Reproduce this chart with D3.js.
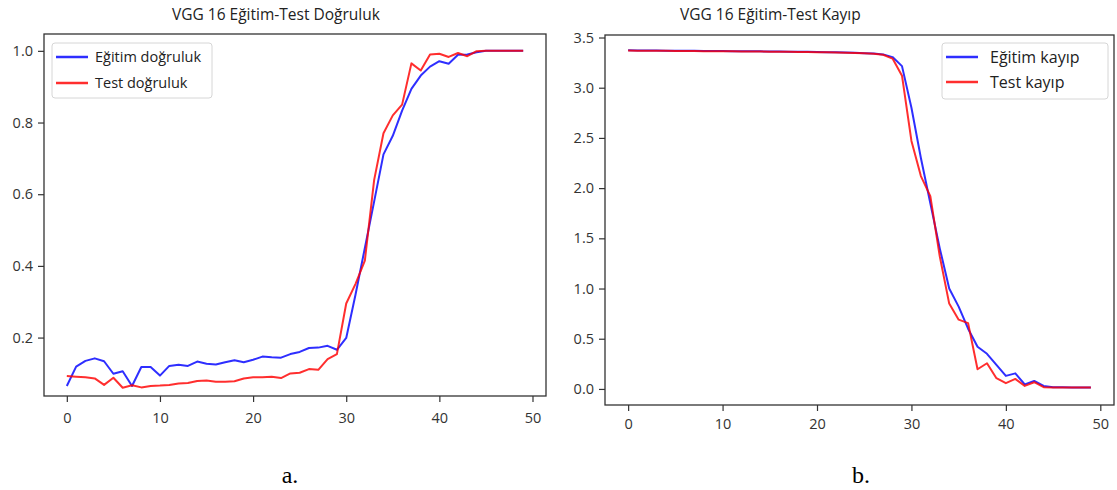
<!DOCTYPE html>
<html>
<head>
<meta charset="utf-8">
<script src="https://cdn.jsdelivr.net/npm/d3@7"></script>
<style>
  body { margin: 0; background: #fff; }
  svg text { font-family: "Open Sans", sans-serif; }
</style>
</head>
<body>
<svg id="chart" width="1117" height="490"></svg>
<script>
// ---------- Data ----------
const xTicks = [0, 10, 20, 30, 40, 50];

const trainAcc = [
  0.065, 0.119, 0.135, 0.142, 0.134, 0.099, 0.106, 0.065, 0.118, 0.118,
  0.094, 0.121, 0.124, 0.121, 0.133, 0.127, 0.125, 0.131, 0.137, 0.131,
  0.138, 0.147, 0.145, 0.144, 0.154, 0.160, 0.171, 0.172, 0.177, 0.166,
  0.199, 0.320, 0.450, 0.580, 0.711, 0.763, 0.833, 0.894, 0.931, 0.956,
  0.971, 0.964, 0.989, 0.990, 0.996, 1.000, 1.000, 1.000, 1.000, 1.000
];
const testAcc = [
  0.093, 0.091, 0.089, 0.086, 0.068, 0.088, 0.060, 0.067, 0.061, 0.065,
  0.066, 0.068, 0.072, 0.073, 0.079, 0.080, 0.077, 0.077, 0.078, 0.086,
  0.089, 0.089, 0.091, 0.087, 0.100, 0.102, 0.112, 0.110, 0.140, 0.154,
  0.295, 0.350, 0.415, 0.640, 0.770, 0.820, 0.850, 0.965, 0.945, 0.990,
  0.992, 0.983, 0.994, 0.985, 0.999, 1.000, 1.000, 1.000, 1.000, 1.000
];
const trainLoss = [
  3.372, 3.371, 3.370, 3.370, 3.369, 3.368, 3.368, 3.367, 3.366, 3.366,
  3.365, 3.364, 3.363, 3.363, 3.362, 3.361, 3.360, 3.359, 3.358, 3.357,
  3.356, 3.354, 3.352, 3.350, 3.347, 3.344, 3.340, 3.332, 3.305, 3.215,
  2.800, 2.300, 1.850, 1.400, 1.000, 0.820, 0.600, 0.420, 0.350, 0.240,
  0.130, 0.155, 0.045, 0.080, 0.030, 0.017, 0.016, 0.015, 0.015, 0.015
];
const testLoss = [
  3.370, 3.369, 3.368, 3.368, 3.367, 3.366, 3.366, 3.365, 3.364, 3.364,
  3.363, 3.362, 3.361, 3.361, 3.360, 3.359, 3.358, 3.357, 3.356, 3.355,
  3.354, 3.352, 3.350, 3.348, 3.345, 3.342, 3.338, 3.328, 3.290, 3.120,
  2.470, 2.120, 1.920, 1.320, 0.850, 0.690, 0.655, 0.196, 0.256, 0.107,
  0.057, 0.100, 0.030, 0.067, 0.017, 0.015, 0.015, 0.015, 0.015, 0.015
];

const accTicks = [0.2, 0.4, 0.6, 0.8, 1.0];
const lossTicks = [0.0, 0.5, 1.0, 1.5, 2.0, 2.5, 3.0, 3.5];

const svg = d3.select('#chart');
const BLUE = '#0000ff';
const RED = '#ff0000';

// ---------- One panel ----------
function drawPanel(p) {
  const g = svg.append('g');

  const x = d3.scaleLinear().domain([-2.45, 51.45]).range([p.left, p.right]);
  const y = d3.scaleLinear().domain(p.yDomain).range([p.bottom, p.top]);

  const line = d3.line()
    .x((d, i) => x(i))
    .y(d => y(d));

  p.series.forEach(s => {
    g.append('path')
      .datum(s.values)
      .attr('d', line)
      .attr('fill', 'none')
      .attr('stroke', s.color)
      .attr('stroke-opacity', 0.82)
      .attr('stroke-width', 2)
      .attr('stroke-linejoin', 'round');
  });

  // frame (all four spines)
  g.append('rect')
    .attr('x', p.left).attr('y', p.top)
    .attr('width', p.right - p.left).attr('height', p.bottom - p.top)
    .attr('fill', 'none').attr('stroke', '#333').attr('stroke-width', 1.3);

  // axes
  const xAxis = g.append('g')
    .attr('transform', `translate(0,${p.bottom})`)
    .call(d3.axisBottom(x).tickValues(xTicks).tickSize(6).tickPadding(p.xPad).tickFormat(d3.format('d')));
  const yAxis = g.append('g')
    .attr('transform', `translate(${p.left},0)`)
    .call(d3.axisLeft(y).tickValues(p.yTicks).tickSize(6).tickPadding(5).tickFormat(d3.format('.1f')));

  [xAxis, yAxis].forEach(a => {
    a.select('.domain').remove();
    a.selectAll('.tick line').attr('stroke', '#333').attr('stroke-width', 1.2);
    a.selectAll('.tick text')
      .attr('fill', '#333')
      .style('font-family', '"Open Sans", sans-serif')
      .style('font-size', '14.5px');
  });

  // title
  g.append('text')
    .attr('x', p.titleX).attr('y', 20)
    .attr('font-size', 15.5).attr('fill', '#222')
    .text(p.title);

  // legend
  const lg = g.append('g');
  lg.append('rect')
    .attr('x', p.legend.x).attr('y', p.legend.y)
    .attr('width', p.legend.w).attr('height', p.legend.h)
    .attr('rx', 3)
    .attr('fill', '#fff').attr('fill-opacity', 0.85)
    .attr('stroke', '#d6d6d6').attr('stroke-width', 1);
  p.series.forEach((s, i) => {
    const ly = p.legend.y + p.legend.first + i * p.legend.step;
    lg.append('line')
      .attr('x1', p.legend.x + 4).attr('x2', p.legend.x + 36)
      .attr('y1', ly).attr('y2', ly)
      .attr('stroke', s.color).attr('stroke-opacity', 0.82).attr('stroke-width', 2.5);
    lg.append('text')
      .attr('x', p.legend.x + p.legend.textDx).attr('y', ly)
      .attr('dy', '0.35em')
      .attr('font-size', p.legend.fs).attr('fill', '#222')
      .text(s.name);
  });

  // caption under the panel
  svg.append('text')
    .attr('x', p.captionX).attr('y', 483)
    .attr('text-anchor', 'middle')
    .style('font-family', '"Liberation Serif", "Times New Roman", serif')
    .attr('font-size', 24).attr('fill', '#000')
    .text(p.caption);
}

drawPanel({
  left: 44, right: 546, top: 34, bottom: 396,
  yDomain: [0.037, 1.047], yTicks: accTicks, xPad: 11,
  title: 'VGG 16 Eğitim-Test Doğruluk', titleX: 172,
  series: [
    { name: 'Eğitim doğruluk', values: trainAcc, color: BLUE },
    { name: 'Test doğruluk', values: testAcc, color: RED }
  ],
  legend: { x: 52, y: 43, w: 160, h: 55, first: 14, step: 26, textDx: 43, fs: 14.5 },
  caption: 'a.', captionX: 290
});

drawPanel({
  left: 605, right: 1114, top: 35, bottom: 405,
  yDomain: [-0.16, 3.525], yTicks: lossTicks, xPad: 8,
  title: 'VGG 16 Eğitim-Test Kayıp', titleX: 680,
  series: [
    { name: 'Eğitim kayıp', values: trainLoss, color: BLUE },
    { name: 'Test kayıp', values: testLoss, color: RED }
  ],
  legend: { x: 942, y: 43, w: 166, h: 56, first: 14, step: 25, textDx: 48, fs: 16 },
  caption: 'b.', captionX: 861
});
</script>
</body>
</html>
